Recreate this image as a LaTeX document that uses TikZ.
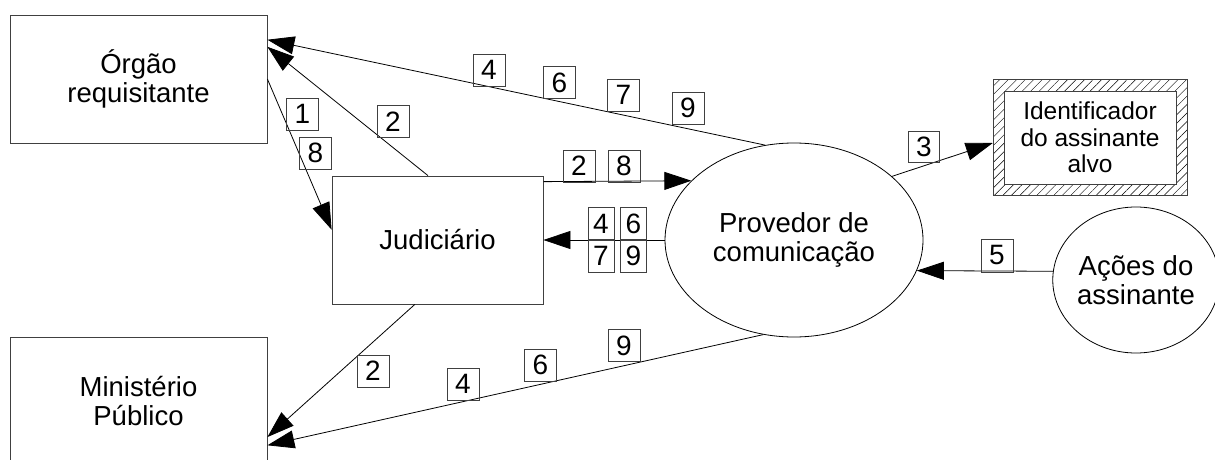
\documentclass[tikz,border=0pt]{standalone}
\usepackage{fontspec}
\setmainfont{Liberation Sans}
\usetikzlibrary{shapes.geometric,arrows.meta,calc,patterns.meta}
\begin{document}
\begin{tikzpicture}[x=1pt,y=-1pt,
  box/.style={draw=black!75,line width=0.8pt,rectangle,inner sep=0pt,align=center,
    font=\fontsize{27.5}{29}\selectfont},
  oval/.style={draw,ellipse,line width=0.8pt,inner sep=0pt,align=center,
    font=\fontsize{27.5}{29}\selectfont},
  num/.style={draw=black!75,line width=0.8pt,inner sep=0pt,minimum width=32pt,
    minimum height=32pt,font=\fontsize{28}{28}\selectfont},
  flow/.style={draw,line width=0.8pt,-{Triangle[length=27pt,width=18pt]}},
]
\useasboundingbox (0,0) rectangle (1215,460);
\clip (0,0) rectangle (1215,460);

% entities
\node[box,minimum width=257pt,minimum height=128pt] (org) at (138.5,79) {Órgão\\requisitante};
\node[box,minimum width=257pt,minimum height=128pt] (mp) at (138.5,401) {Ministério\\Público};
\node[box,minimum width=211pt,minimum height=128pt] (jud) at (437.5,240) {Judiciário};
\node[oval,minimum width=258pt,minimum height=194pt] (prov) at (794,240) {Provedor de\\comunicação};
\node[draw=black!75,line width=0.8pt,inner sep=0pt,minimum width=194pt,minimum height=116pt,
  pattern={Lines[angle=45,distance=6pt,line width=0.45pt]}] (ident) at (1090,137) {};
\node[box,fill=white,minimum width=172pt,minimum height=93pt,
  font=\fontsize{24.5}{26.5}\selectfont] (identin) at (1090,137.5) {Identificador\\do assinante\\alvo};
\node[oval,minimum width=158pt,minimum height=146pt] (acoes) at (1136,280) {Ações do\\assinante};

% flows
\draw[flow] (prov.107.7) -- ($(org.north east)!0.195!(org.south east)$);
\draw[flow] ($(jud.north west)!0.455!(jud.north east)$) -- ($(org.north east)!0.25!(org.south east)$);
\draw[flow] (org.east) -- ($(jud.north west)!0.42!(jud.south west)$);
\draw[flow] ($(jud.north east)!0.047!(jud.south east)$) -- (prov.150.7);
\draw[flow] (prov.west) -- (jud.east);
\draw[flow] (prov.33.3) -- ($(ident.west)+(0,6)$);
\draw[flow] (acoes.174.2) -- (prov.-14.7);
\draw[flow] ($(jud.south west)!0.393!(jud.south east)$) -- ($(mp.north east)!0.78!(mp.south east)$);
\draw[flow] (prov.252.3) -- ($(mp.north east)!0.844!(mp.south east)$);

% step numbers
\node[num] (t4) at (489,70) {4};
\node[num] (t6) at (559.5,82.5) {6};
\node[num] (t7) at (623.5,95) {7};
\node[num] (t9) at (688,108) {9};
\node[num] (j2) at (393,121.5) {2};
\node[num] (r1) at (302.5,114) {1};
\node[num] (r8) at (315.5,153) {8};
\node[num] (p2) at (579,166) {2};
\node[num] (p8) at (624,166) {8};
\node[num,minimum width=26pt,minimum height=33pt] (g4) at (601,223.5) {4};
\node[num,minimum width=26pt,minimum height=33pt] (g6) at (633.5,223.5) {6};
\node[num,minimum width=26pt,minimum height=33pt] (g7) at (601,256) {7};
\node[num,minimum width=26pt,minimum height=33pt] (g9) at (633.5,256) {9};
\node[num,minimum width=31pt,minimum height=31pt] (i3) at (924,146.5) {3};
\node[num,minimum height=33pt] (a5) at (997,255.5) {5};
\node[num] (m2) at (373,371) {2};
\node[num] (b4) at (463,384) {4};
\node[num] (b6) at (540.5,365) {6};
\node[num] (b9) at (624,345.5) {9};
\end{tikzpicture}
\end{document}
